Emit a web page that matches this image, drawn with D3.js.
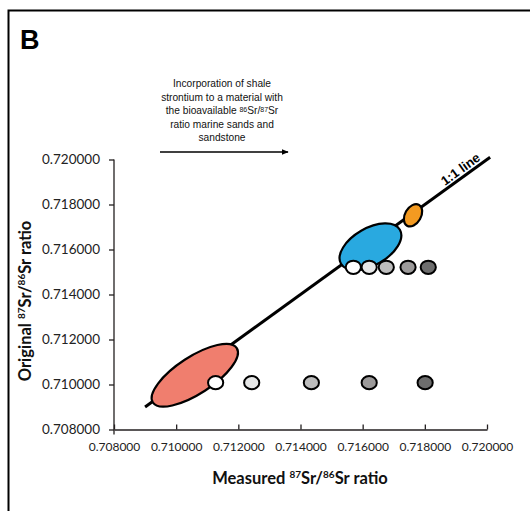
<!DOCTYPE html>
<html>
<head>
<meta charset="utf-8">
<script src="https://cdn.jsdelivr.net/npm/d3@7"></script>
<style>
  html, body { margin: 0; padding: 0; background: #fff; }
  svg { display: block; }
</style>
</head>
<body>
<svg id="chart" width="530" height="511"></svg>
<script>
// ---------------- DATA ----------------
const xTicks = [0.708, 0.710, 0.712, 0.714, 0.716, 0.718, 0.720];
const yTicks = [0.708, 0.710, 0.712, 0.714, 0.716, 0.718, 0.720];
const oneToOneLine = [0.709, 0.7201];

// ellipses (shale field, intermediate field, high field): centres
const ellipseMeasured = [0.7106, 0.71625, 0.71762];
const ellipseOriginal = [0.71041, 0.71612, 0.71752];

// mixing points, lower row
const lowMeasured = [0.71127, 0.71243, 0.71435, 0.71621, 0.71801];
const lowOriginal = [0.71008, 0.71008, 0.71008, 0.71008, 0.71008];
// mixing points, upper row
const highMeasured = [0.71570, 0.71621, 0.71676, 0.71746, 0.71811];
const highOriginal = [0.71521, 0.71521, 0.71521, 0.71521, 0.71521];

const annotationLines = [
  ["Incorporation of shale"],
  ["strontium to a material with"],
  ["the bioavailable ", "86", "Sr/", "87", "Sr"],
  ["ratio marine sands and"],
  ["sandstone"]
];

// ---------------- STYLE ----------------
const ellipseStyle = [
  { fill: "#f07e6e", rx: 50, ry: 18.5, rot: -33 },
  { fill: "#29a9e0", rx: 34, ry: 18.5, rot: -30 },
  { fill: "#f39a21", rx: 8, ry: 12, rot: 30 }
];
const pointFills = ["#ffffff", "#e6e7e7", "#bdbdbd", "#9c9a9a", "#6d6d6d"];
const axisColor = "#231f20";

const svg = d3.select("#chart");

// frame
svg.append("rect")
  .attr("x", 8.5).attr("y", 10.5)
  .attr("width", 540).attr("height", 520)
  .attr("fill", "none").attr("stroke", "#000").attr("stroke-width", 2);

// panel letter
svg.append("text")
  .attr("x", 20).attr("y", 49)
  .attr("font-family", "Liberation Sans, Arial, sans-serif")
  .attr("font-weight", "bold").attr("font-size", 27)
  .text("B");

// scales
const x = d3.scaleLinear().domain([0.708, 0.720]).range([114, 487]);
const y = d3.scaleLinear().domain([0.708, 0.720]).range([429.5, 159.5]);

// y axis
const yAxis = svg.append("g")
  .attr("transform", `translate(${x(0.708)},0)`)
  .call(d3.axisLeft(y).tickValues(yTicks).tickSize(5).tickSizeOuter(0).tickPadding(9)
        .tickFormat(d3.format(".6f")));
yAxis.select(".domain").attr("stroke", axisColor).attr("stroke-width", 1.3)
  .attr("d", `M0,${y(0.708) + 5}V${y(0.720)}`);
yAxis.selectAll(".tick line").attr("stroke", axisColor).attr("stroke-width", 1.3);
yAxis.selectAll(".tick text")
  .attr("font-family", "Lato, 'Open Sans', sans-serif")
  .attr("font-size", 13.5).attr("fill", "#222");

// x axis
const xAxis = svg.append("g")
  .attr("transform", `translate(0,${y(0.708)})`)
  .call(d3.axisBottom(x).tickValues(xTicks).tickSizeInner(-5).tickSizeOuter(0).tickPadding(13)
        .tickFormat(d3.format(".6f")));
xAxis.select(".domain").attr("stroke", axisColor).attr("stroke-width", 1.3);
xAxis.selectAll(".tick line").attr("stroke", axisColor).attr("stroke-width", 1.3);
xAxis.selectAll(".tick text")
  .attr("font-family", "Lato, 'Open Sans', sans-serif")
  .attr("font-size", 12).attr("fill", "#222");

// axis titles
function addTitle(sel, word) {
  sel.append("tspan").text(word + " ");
  sel.append("tspan").attr("font-size", 10).attr("dy", -6).text("87");
  sel.append("tspan").attr("dy", 6).text("Sr/");
  sel.append("tspan").attr("font-size", 10).attr("dy", -6).text("86");
  sel.append("tspan").attr("dy", 6).text("Sr ratio");
}
const xTitle = svg.append("text")
  .attr("x", 300).attr("y", 484)
  .attr("text-anchor", "middle")
  .attr("font-family", "Lato, 'Open Sans', sans-serif")
  .attr("font-weight", "bold").attr("font-size", 16.5).attr("fill", "#111");
addTitle(xTitle, "Measured");

const yTitle = svg.append("text")
  .attr("transform", "translate(31,301) rotate(-90)")
  .attr("text-anchor", "middle")
  .attr("font-family", "Lato, 'Open Sans', sans-serif")
  .attr("font-weight", "bold").attr("font-size", 16.5).attr("fill", "#111");
addTitle(yTitle, "Original");

// 1:1 line
svg.append("line")
  .attr("x1", x(oneToOneLine[0])).attr("y1", y(oneToOneLine[0]))
  .attr("x2", x(oneToOneLine[1])).attr("y2", y(oneToOneLine[1]))
  .attr("stroke", "#000").attr("stroke-width", 3);

// 1:1 label
const ang = Math.atan2(y(0.720) - y(0.708), x(0.720) - x(0.708)) * 180 / Math.PI;
svg.append("text")
  .attr("transform", `translate(${x(0.7191) + 4},${y(0.7191) - 7}) rotate(${ang})`)
  .attr("text-anchor", "middle")
  .attr("font-family", "Liberation Sans, Arial, sans-serif")
  .attr("font-weight", "bold").attr("font-size", 13)
  .text("1:1 line");

// ellipses
svg.selectAll("ellipse.field")
  .data(ellipseMeasured.map((m, i) => ({ m, o: ellipseOriginal[i], s: ellipseStyle[i] })))
  .join("ellipse")
  .attr("class", "field")
  .attr("transform", d => `translate(${x(d.m)},${y(d.o)}) rotate(${d.s.rot})`)
  .attr("rx", d => d.s.rx).attr("ry", d => d.s.ry)
  .attr("fill", d => d.s.fill).attr("stroke", "#000").attr("stroke-width", 2.2);

// points
function drawRow(ms, os) {
  svg.append("g").selectAll("ellipse")
    .data(ms.map((m, i) => ({ m, o: os[i], i })))
    .join("ellipse")
    .attr("cx", d => x(d.m)).attr("cy", d => y(d.o))
    .attr("rx", 7.6).attr("ry", 6.6)
    .attr("fill", d => pointFills[d.i])
    .attr("stroke", "#000").attr("stroke-width", 2);
}
drawRow(lowMeasured, lowOriginal);
drawRow(highMeasured, highOriginal);

// annotation
const ann = svg.append("text")
  .attr("text-anchor", "middle")
  .attr("font-family", "Liberation Sans, Arial, sans-serif")
  .attr("font-size", 10.2).attr("fill", "#111");
annotationLines.forEach((parts, li) => {
  const line = ann.append("tspan").attr("x", 222).attr("y", 87 + li * 13.5);
  parts.forEach(p => {
    if (/^\d+$/.test(p)) {
      line.append("tspan").attr("font-size", 7).attr("baseline-shift", "35%").text(p);
    } else {
      line.append("tspan").text(p);
    }
  });
});

// arrow
svg.append("defs").append("marker")
  .attr("id", "arr").attr("viewBox", "0 0 10 10")
  .attr("refX", 9).attr("refY", 5)
  .attr("markerWidth", 7).attr("markerHeight", 7)
  .attr("markerUnits", "userSpaceOnUse")
  .attr("orient", "auto")
  .append("path").attr("d", "M0,1 L10,5 L0,9 Z").attr("fill", "#000");
svg.append("line")
  .attr("x1", 160).attr("y1", 152).attr("x2", 288).attr("y2", 152)
  .attr("stroke", "#000").attr("stroke-width", 1.3)
  .attr("marker-end", "url(#arr)");
</script>
</body>
</html>
